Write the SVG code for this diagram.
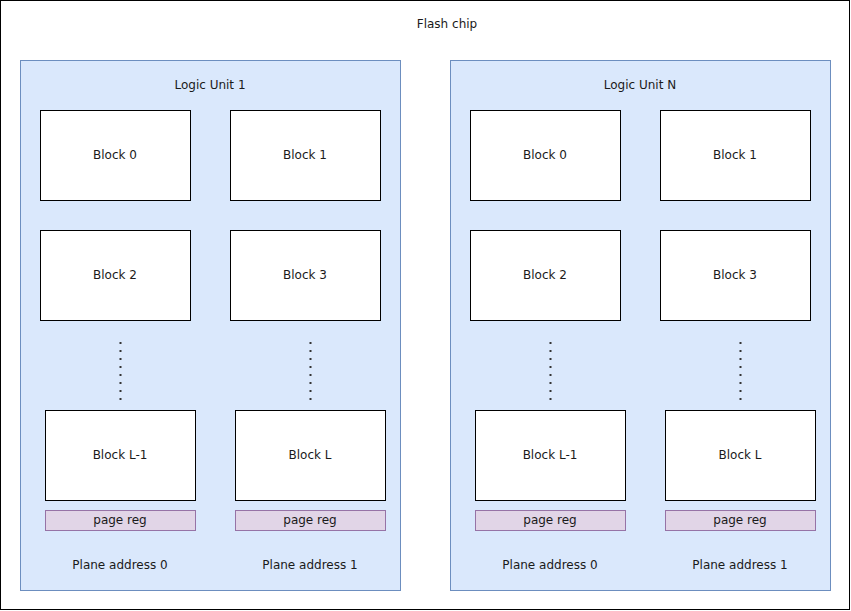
<svg xmlns="http://www.w3.org/2000/svg" width="851" height="611" viewBox="0 0 851 611">
  <style>
    text { font-family: "DejaVu Sans", "Liberation Sans", sans-serif; font-size: 12px; fill: #1a1a1a; text-anchor: middle; }
    .chip { fill: #ffffff; stroke: #000000; stroke-width: 1; }
    .lun { fill: #dae8fc; stroke: #6c8ebf; stroke-width: 1; }
    .block { fill: #ffffff; stroke: #000000; stroke-width: 1; }
    .reg { fill: #e1d5e7; stroke: #9673a6; stroke-width: 1; }
    .dots { stroke: #333333; stroke-width: 2; stroke-dasharray: 2 6; fill: none; }
  </style>

  <!-- chip outline -->
  <g id="flash-chip">
    <rect class="chip" x="0.5" y="0.5" width="849" height="609"/>
    <text x="447" y="28">Flash chip</text>
  </g>

  <!-- Logic Unit 1 -->
  <g id="lun-1">
    <rect class="lun" x="20.5" y="60.5" width="380" height="530"/>
    <text x="210" y="89">Logic Unit 1</text>
  </g>
  <g id="lun1-block0"><rect class="block" x="40.5" y="110.5" width="150" height="90"/><text x="115" y="159">Block 0</text></g>
  <g id="lun1-block1"><rect class="block" x="230.5" y="110.5" width="150" height="90"/><text x="305" y="159">Block 1</text></g>
  <g id="lun1-block2"><rect class="block" x="40.5" y="230.5" width="150" height="90"/><text x="115" y="279">Block 2</text></g>
  <g id="lun1-block3"><rect class="block" x="230.5" y="230.5" width="150" height="90"/><text x="305" y="279">Block 3</text></g>
  <g id="lun1-blockL-1"><rect class="block" x="45.5" y="410.5" width="150" height="90"/><text x="120" y="459">Block L-1</text></g>
  <g id="lun1-blockL"><rect class="block" x="235.5" y="410.5" width="150" height="90"/><text x="310" y="459">Block L</text></g>
  <g id="lun1-reg0"><rect class="reg" x="45.5" y="510.5" width="150" height="20"/><text x="120" y="524">page reg</text></g>
  <g id="lun1-reg1"><rect class="reg" x="235.5" y="510.5" width="150" height="20"/><text x="310" y="524">page reg</text></g>
  <g id="lun1-plane0"><text x="120" y="569">Plane address 0</text></g>
  <g id="lun1-plane1"><text x="310" y="569">Plane address 1</text></g>

  <!-- Logic Unit N -->
  <g id="lun-n">
    <rect class="lun" x="450.5" y="60.5" width="380" height="530"/>
    <text x="640" y="89">Logic Unit N</text>
  </g>
  <g id="lunN-block0"><rect class="block" x="470.5" y="110.5" width="150" height="90"/><text x="545" y="159">Block 0</text></g>
  <g id="lunN-block1"><rect class="block" x="660.5" y="110.5" width="150" height="90"/><text x="735" y="159">Block 1</text></g>
  <g id="lunN-block2"><rect class="block" x="470.5" y="230.5" width="150" height="90"/><text x="545" y="279">Block 2</text></g>
  <g id="lunN-block3"><rect class="block" x="660.5" y="230.5" width="150" height="90"/><text x="735" y="279">Block 3</text></g>
  <g id="lunN-blockL-1"><rect class="block" x="475.5" y="410.5" width="150" height="90"/><text x="550" y="459">Block L-1</text></g>
  <g id="lunN-blockL"><rect class="block" x="665.5" y="410.5" width="150" height="90"/><text x="740" y="459">Block L</text></g>
  <g id="lunN-reg0"><rect class="reg" x="475.5" y="510.5" width="150" height="20"/><text x="550" y="524">page reg</text></g>
  <g id="lunN-reg1"><rect class="reg" x="665.5" y="510.5" width="150" height="20"/><text x="740" y="524">page reg</text></g>
  <g id="lunN-plane0"><text x="550" y="569">Plane address 0</text></g>
  <g id="lunN-plane1"><text x="740" y="569">Plane address 1</text></g>

  <!-- dotted continuation lines between block rows -->
  <g id="connectors">
    <line class="dots" x1="120.5" y1="342" x2="120.5" y2="400"/>
    <line class="dots" x1="310.5" y1="342" x2="310.5" y2="400"/>
    <line class="dots" x1="550.5" y1="342" x2="550.5" y2="400"/>
    <line class="dots" x1="740.5" y1="342" x2="740.5" y2="400"/>
  </g>
</svg>
